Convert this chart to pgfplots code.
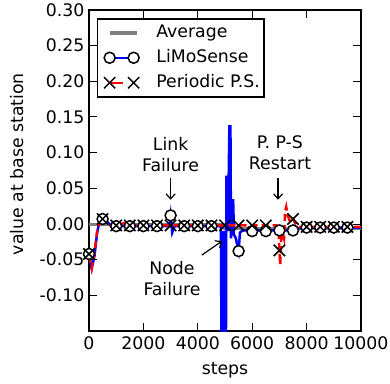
\documentclass[border=0pt]{standalone}
\usepackage{fontspec}
\setmainfont{DejaVu Sans}
\usepackage{pgfplots}
\pgfplotsset{compat=1.18}
\usetikzlibrary{arrows.meta}

\newcommand\lbl{\fontsize{17.3}{21}\selectfont}

\begin{document}
\begin{tikzpicture}
\begin{axis}[
  scale only axis, width=272pt, height=321pt,
  xmin=0, xmax=10000, ymin=-0.15, ymax=0.30,
  xtick={0,2000,4000,6000,8000,10000},
  ytick={-0.10,-0.05,0,0.05,0.10,0.15,0.20,0.25,0.30},
  tick align=inside,
  major tick length=8pt,
  every tick/.style={black, line width=1pt},
  axis line style={line width=1.5pt},
  /pgf/number format/assume math mode=true,
  ticklabel style={font=\lbl},
  xticklabel style={yshift=-2pt, /pgf/number format/.cd, 1000 sep={}, fixed},
  yticklabel style={xshift=-1pt, /pgf/number format/.cd, fixed, fixed zerofill, precision=2},
  scaled x ticks=false, scaled y ticks=false,
  xlabel={steps}, ylabel={value at base station},
  every axis x label/.style={at={(axis description cs:0.5,-0.1215)}, anchor=center, font=\lbl},
  every axis y label/.style={at={(axis description cs:-0.265,0.52)}, rotate=90, anchor=center, font=\lbl},
  legend cell align=left,
  legend style={at={(axis description cs:0.029,0.975)}, anchor=north west,
    font=\lbl, draw=black, line width=1.5pt, inner xsep=4pt, inner ysep=5.25pt,
    row sep=7.5pt, column sep=0pt,
    nodes={inner xsep=0pt, inner ysep=0pt, text height=13pt, text depth=4.5pt}},
]

% network-wide average (drops when the node fails)
\addplot[gray, line width=3.5pt,
  legend image code/.code={\draw[gray, line width=3.5pt] (0pt,0pt) -- (27pt,0pt); \path (-6.25pt,0pt) (45pt,0pt);}]
  coordinates {(0,-0.001) (5000,-0.001) (5000,-0.006) (10000,-0.006)};
\addlegendentry{Average}

% LiMoSense estimate
\addplot[blue, line width=2.5pt, forget plot] coordinates {
  (0,-0.042) (100,-0.062) (200,-0.045) (300,-0.012) (400,0.006) (500,0.007)
  (650,0.004) (800,-0.002) (1000,-0.003) (2950,-0.003) (3000,0.012)
  (3060,-0.012) (3150,-0.003) (4850,-0.003) (4880,-0.25) (4920,-0.25)
  (4940,-0.01) (4960,-0.25) (5030,-0.25) (5050,0.066) (5090,0.066)
  (5110,-0.01) (5160,0.137) (5200,0.137) (5220,-0.02) (5260,0.033)
  (5300,0.033) (5330,-0.015) (5400,-0.02) (5450,-0.03) (5500,-0.038)
  (5550,-0.012) (5650,-0.009) (7500,-0.009) (7700,-0.006) (8000,-0.005)
  (10000,-0.005)};
\addplot[only marks, mark=*, mark size=5.5pt,
  mark options={fill=white, draw=black, line width=1.5pt},
  legend image code/.code={
    \draw[blue, line width=2.5pt] (0pt,0pt) -- (24pt,0pt);
    \draw[black, fill=white, line width=1.5pt] (0pt,0pt) circle (5.5pt) (24pt,0pt) circle (5.5pt);
    \path (-6.25pt,0pt) (45pt,0pt);}]
  coordinates {
  (0,-0.042) (500,0.007) (1000,-0.003) (1500,-0.003) (2000,-0.003)
  (2500,-0.003) (3000,0.012) (3500,-0.003) (4000,-0.003) (4500,-0.003)
  (5500,-0.038) (6000,-0.010) (6500,-0.010) (7000,-0.009) (7500,-0.009)
  (8000,-0.005) (8500,-0.005) (9000,-0.005) (9500,-0.005)};
\addlegendentry{LiMoSense}

% periodic push-sum estimate
\addplot[red, line width=2.5pt, dash pattern=on 7pt off 4pt, forget plot] coordinates {
  (0,-0.045) (100,-0.062) (200,-0.04) (300,-0.01) (420,0.01) (500,0.006)
  (650,0.003) (800,-0.003) (1200,0.0) (1350,0.002) (1500,-0.002)
  (6900,-0.002) (6970,-0.01) (7000,-0.037) (7030,-0.057) (7070,-0.02)
  (7120,-0.012) (7170,-0.02) (7210,0.018) (7250,0.024) (7300,0.012)
  (7400,0.003) (7500,0.007) (7600,0.0) (7700,-0.004) (10000,-0.004)};
\addplot[only marks, mark=x, mark size=8pt, mark options={draw=black, line width=1.5pt},
  legend image code/.code={
    \draw[red, line width=2.5pt] (0pt,0pt) -- (13pt,0pt);
    \draw[black, line width=1.5pt] (-5.6pt,-5.6pt) -- (5.6pt,5.6pt) (-5.6pt,5.6pt) -- (5.6pt,-5.6pt);
    \draw[black, line width=1.5pt] (18.4pt,-5.6pt) -- (29.6pt,5.6pt) (18.4pt,5.6pt) -- (29.6pt,-5.6pt);
    \path (-6.25pt,0pt) (45pt,0pt);}]
  coordinates {
  (0,-0.042) (500,0.007) (1000,-0.002) (1500,-0.002) (2000,-0.002)
  (2500,-0.002) (3000,-0.002) (3500,-0.002) (4000,-0.002) (4500,-0.002)
  (5000,-0.002) (5500,-0.002) (6000,-0.002) (6500,-0.002) (7000,-0.037)
  (7500,0.007) (8000,-0.004) (8500,-0.004) (9000,-0.004) (9500,-0.004)};
\addlegendentry{Periodic P.S.}

% event annotations
\node[font=\lbl, align=center] at (axis cs:3000,0.098) {Link\\Failure};
\draw[-{Straight Barb[length=5pt,width=9pt]}, line width=1.2pt]
  (axis cs:3000,0.0645) -- (axis cs:3000,0.034);
\node[font=\lbl, align=center] at (axis cs:7020,0.0995) {P. P-S\\Restart};
\draw[-{Straight Barb[length=5pt,width=9pt]}, line width=1.2pt]
  (axis cs:6950,0.0645) -- (axis cs:6950,0.034);
\node[font=\lbl, align=center] at (axis cs:3050,-0.077) {Node\\Failure};
\draw[-{Straight Barb[length=5pt,width=9pt]}, line width=1.2pt]
  (axis cs:4150,-0.0435) -- (axis cs:4890,-0.024);
\end{axis}
\pgfresetboundingbox
\path ([xshift=-89pt,yshift=-52pt]current axis.south west)
  rectangle ([xshift=29pt,yshift=10pt]current axis.north east);
\end{tikzpicture}
\end{document}
